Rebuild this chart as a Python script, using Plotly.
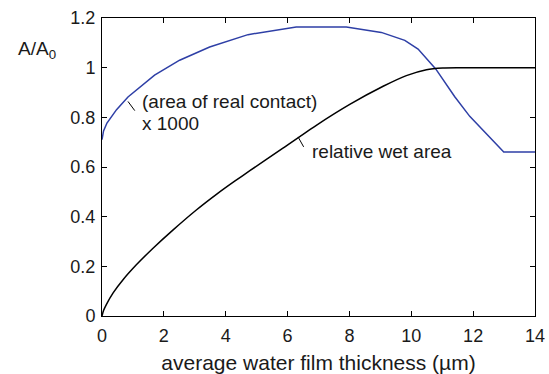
import plotly.graph_objects as go

# Film thickness samples (µm) and the two area curves
thickness_contact = [0, 0.05, 0.16, 0.47, 0.84, 1.70, 2.51, 3.48, 4.72, 6.28, 7.90, 9.03, 9.79, 10.22, 10.79, 11.40, 11.89, 12.99, 14.0]
real_contact_x1000 = [0.71, 0.745, 0.777, 0.831, 0.882, 0.970, 1.030, 1.083, 1.133, 1.164, 1.164, 1.142, 1.110, 1.075, 0.995, 0.884, 0.804, 0.66, 0.66]

thickness_wet = [0, 0.05, 0.14, 0.36, 0.68, 1.11, 1.65, 2.30, 3.05, 3.70, 4.29, 4.78, 5.85, 6.93, 8.01, 9.09, 9.84, 10.49, 11.02, 11.5, 12.0, 14.0]
relative_wet_area = [0, 0.022, 0.046, 0.093, 0.146, 0.206, 0.273, 0.347, 0.427, 0.490, 0.543, 0.585, 0.676, 0.768, 0.852, 0.925, 0.968, 0.992, 0.999, 1.0, 1.0, 1.0]

x_ticks = [0, 2, 4, 6, 8, 10, 12, 14]
y_ticks = [0, 0.2, 0.4, 0.6, 0.8, 1.0, 1.2]
y_tick_labels = ["0", "0.2", "0.4", "0.6", "0.8", "1", "1.2"]

FONT = "Liberation Sans, Arial, Helvetica, sans-serif"
BLUE = "#2e3fa6"
INK = "#1a1a1a"

fig = go.Figure()
fig.add_trace(go.Scatter(x=thickness_contact, y=real_contact_x1000, mode="lines",
                         line=dict(color=BLUE, width=1.5), showlegend=False))
fig.add_trace(go.Scatter(x=thickness_wet, y=relative_wet_area, mode="lines",
                         line=dict(color="black", width=1.5, shape="spline", smoothing=0.6),
                         showlegend=False))

# Short leader lines from labels to curves
fig.add_shape(type="line", x0=0.84, y0=0.864, x1=1.06, y1=0.827,
              line=dict(color="black", width=1))
fig.add_shape(type="line", x0=6.34, y0=0.721, x1=6.52, y1=0.681,
              line=dict(color="black", width=1))

label_font = dict(family=FONT, size=19, color=INK)
fig.add_annotation(x=1.22, y=0.864, text="(area of real contact)",
                   showarrow=False, xanchor="left", yanchor="middle", font=label_font)
fig.add_annotation(x=1.22, y=0.774, text="x 1000",
                   showarrow=False, xanchor="left", yanchor="middle", font=label_font)
fig.add_annotation(x=6.74, y=0.662, text="relative wet area",
                   showarrow=False, xanchor="left", yanchor="middle", font=label_font)
fig.add_annotation(xref="paper", yref="paper", x=-0.198, y=0.892,
                   text="A/A<sub>0</sub>", showarrow=False,
                   xanchor="left", yanchor="middle", font=label_font)

axis_common = dict(showline=True, linecolor="black", linewidth=1, mirror="ticks",
                   ticks="inside", ticklen=5, tickcolor="black", showgrid=False,
                   zeroline=False, automargin=False,
                   tickfont=dict(family=FONT, size=18, color=INK))

fig.update_xaxes(range=[0, 14], tickvals=x_ticks, ticklabelstandoff=3,
                 title=dict(text="average water film thickness (µm)",
                            font=dict(family=FONT, size=21, color=INK), standoff=14),
                 **axis_common)
fig.update_yaxes(range=[0, 1.2], tickvals=y_ticks, ticktext=y_tick_labels,
                 ticklabelstandoff=2, **axis_common)

fig.update_layout(width=549, height=374, margin=dict(l=102, r=14, t=18, b=58),
                  plot_bgcolor="white", paper_bgcolor="white",
                  font=dict(family=FONT, size=18, color=INK))

fig.write_html("out.html")
